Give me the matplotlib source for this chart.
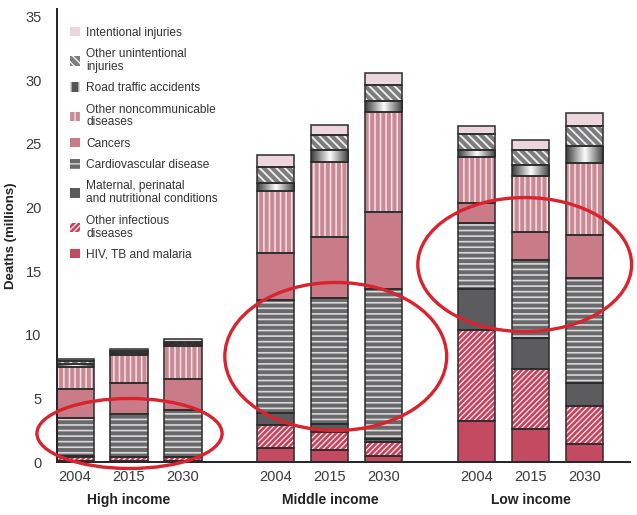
import numpy as np
import matplotlib
matplotlib.use('Agg')
import matplotlib.pyplot as plt
from matplotlib.patches import Patch, Ellipse

plt.rcParams['font.family'] = ['Liberation Sans', 'DejaVu Sans']

# data (millions of deaths), one value per bar
groups = ['High income', 'Middle income', 'Low income']
years = ['2004', '2015', '2030']

hiv = [0.10, 0.10, 0.10, 1.10, 0.93, 0.46, 3.26, 2.60, 1.45]
other_infectious = [0.28, 0.28, 0.28, 1.77, 1.44, 1.10, 7.09, 4.67, 2.93]
maternal = [0.07, 0.05, 0.04, 0.99, 0.58, 0.21, 3.25, 2.49, 1.82]
cardiovascular = [2.97, 3.37, 3.63, 8.84, 9.95, 11.83, 5.15, 6.14, 8.27]
cancers = [2.33, 2.40, 2.48, 3.70, 4.76, 6.05, 1.61, 2.15, 3.33]
other_ncd = [1.73, 2.17, 2.57, 4.90, 5.94, 7.85, 3.64, 4.45, 5.70]
road_traffic = [0.22, 0.21, 0.15, 0.60, 0.90, 0.90, 0.50, 0.80, 1.30]
other_unintentional = [0.20, 0.14, 0.20, 1.30, 1.20, 1.20, 1.30, 1.20, 1.60]
intentional = [0.17, 0.18, 0.20, 0.90, 0.80, 1.00, 0.60, 0.80, 1.00]

# (label, values, face colour, hatch, hatch colour, hatch width)
series = [
    ('HIV, TB and malaria', hiv, '#c44a61', None, None, 0),
    ('Other infectious\ndiseases', other_infectious, '#c0425b', '//////', '#f8dbe2', 1.0),
    ('Maternal, perinatal\nand nutritional conditions', maternal, '#5c5c5e', None, None, 0),
    ('Cardiovascular disease', cardiovascular, '#69696b', '---', '#d9d9d9', 1.2),
    ('Cancers', cancers, '#c97b87', None, None, 0),
    ('Other noncommunicable\ndiseases', other_ncd, '#c98a95', '|||', '#f4e2e6', 1.1),
    ('Road traffic accidents', road_traffic, '#7a7a7a', 'gradient', None, 0),
    ('Other unintentional\ninjuries', other_unintentional, '#7d7d80', '\\\\\\\\', '#f0f0f0', 1.3),
    ('Intentional injuries', intentional, '#ecd6db', None, None, 0),
]

group_gap = 3.72
x = np.array([g * group_gap + i for g in range(3) for i in range(3)])
width = 0.69
edge = '#2b2b2b'

fig = plt.figure(figsize=(6.37, 5.15), dpi=100)
ax = fig.add_axes([57 / 637, 53 / 515, 573 / 637, 452.5 / 515])

grad = np.concatenate([np.linspace(0.25, 0.97, 20), np.linspace(0.97, 0.25, 20)])
grad = np.vstack([grad, grad])

bottom = np.zeros(len(x))
handles = []
for label, vals, color, hatch, hcolor, hlw in series:
    vals = np.array(vals)
    if hatch == 'gradient':
        for xi, b, v in zip(x, bottom, vals):
            ax.imshow(grad, extent=[xi - width / 2, xi + width / 2, b, b + v],
                      aspect='auto', cmap='gray', vmin=0, vmax=1, zorder=2)
        with plt.rc_context({'hatch.linewidth': 1.6}):
            handles.append(Patch(facecolor='#555555', edgecolor='#eeeeee', hatch='||', linewidth=0))
    elif hatch:
        with plt.rc_context({'hatch.linewidth': hlw}):
            ax.bar(x, vals, width, bottom=bottom, color=color, edgecolor=hcolor,
                   hatch=hatch, linewidth=0, zorder=2)
            handles.append(Patch(facecolor=color, edgecolor=hcolor, hatch=hatch, linewidth=0))
    else:
        ax.bar(x, vals, width, bottom=bottom, color=color, linewidth=0, zorder=2)
        handles.append(Patch(facecolor=color, linewidth=0))
    ax.bar(x, vals, width, bottom=bottom, fill=False, edgecolor=edge, linewidth=1.1, zorder=3)
    bottom += vals

ax.set_xlim(-0.333, 10.28)
ax.set_ylim(0, 35.55)
ax.set_yticks(range(0, 36, 5))
ax.set_xticks(x)
ax.set_xticklabels(years * 3)
ax.tick_params(length=0, labelsize=10.5, colors='#3a3a3a', pad=6)
ax.tick_params(axis='y', pad=11)
for s in ['top', 'right']:
    ax.spines[s].set_visible(False)
for s in ['left', 'bottom']:
    ax.spines[s].set_color('#222222')
    ax.spines[s].set_linewidth(1.4)

ax.set_ylabel('Deaths (millions)', fontsize=9.5, fontweight='bold', color='#222222', labelpad=6)

for g, name in enumerate(groups):
    ax.annotate(name, xy=(g * group_gap + 1, 0), xycoords=('data', 'axes fraction'),
                xytext=(0, -27.5), textcoords='offset points', ha='center', va='center',
                fontsize=10, fontweight='bold', color='#222222')

leg = ax.legend(handles[::-1], [s[0] for s in series][::-1], loc='upper left',
                bbox_to_anchor=(0.022, 0.962), frameon=False, fontsize=8.6,
                handlelength=0.85, handleheight=0.85, handletextpad=0.55,
                labelspacing=0.78, borderpad=0, borderaxespad=0)
for t in leg.get_texts():
    t.set_color('#333333')
    t.set_linespacing(1.1)

# red hand-drawn highlight ellipses (center x, center y, width, height) in data units
ellipses = [(1.01, 2.24, 3.43, 5.5), (4.83, 8.29, 4.11, 11.63), (8.33, 15.51, 3.96, 10.53)]
for cx, cy, w, h in ellipses:
    ax.add_patch(Ellipse((cx, cy), w, h, fill=False, edgecolor='#d9232e',
                         linewidth=2.4, zorder=5, clip_on=False))

fig.savefig('out.png', dpi=100)
